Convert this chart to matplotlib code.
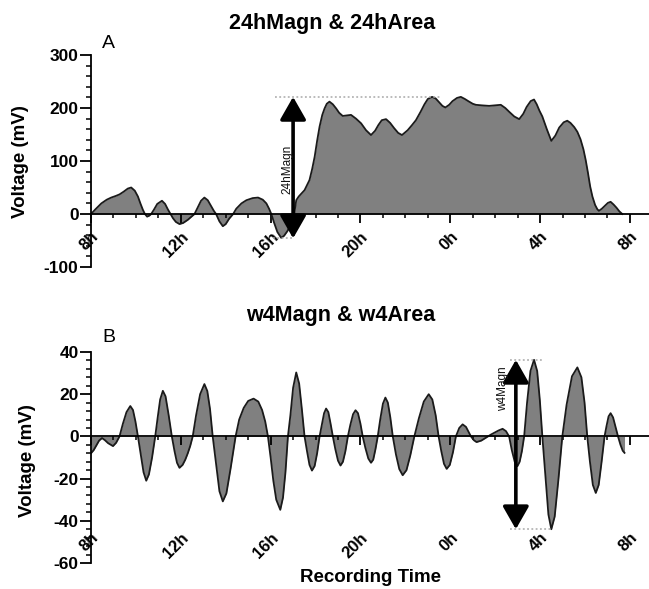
import matplotlib

matplotlib.use("Agg")

import matplotlib.pyplot as plt
from matplotlib.ticker import MultipleLocator, FixedLocator

# ---- data (hours since 8h, mV) ----
h24_time = [0, 0.2, 0.46, 0.7, 0.9, 1.1, 1.27, 1.45, 1.64, 1.79, 1.95, 2.09, 2.2, 2.31,
            2.4, 2.5, 2.6, 2.68, 2.8, 2.95, 3.16, 3.3, 3.42, 3.54, 3.65, 3.78, 3.94,
            4.1, 4.31, 4.47, 4.61, 4.75, 4.9, 5.05, 5.2, 5.35, 5.47, 5.57, 5.72, 5.87,
            6.0, 6.15, 6.33, 6.47, 6.7, 6.92, 7.2, 7.44, 7.65, 7.81, 7.93, 8.03, 8.15,
            8.3, 8.47, 8.6, 8.75, 8.92, 9.0, 9.05, 9.14, 9.25, 9.51, 9.73, 9.85, 9.96,
            10.07, 10.18, 10.3, 10.4, 10.5, 10.62, 10.77, 10.92, 11.05, 11.21, 11.4,
            11.58, 11.8, 12.03, 12.25, 12.47, 12.65, 12.8, 12.95, 13.14, 13.32, 13.5,
            13.68, 13.85, 14.1, 14.3, 14.47, 14.68, 14.85, 15.0, 15.19, 15.35, 15.5,
            15.65, 15.78, 15.95, 16.1, 16.3, 16.47, 16.65, 16.8, 17.0, 17.14, 17.4,
            17.73, 18.0, 18.25, 18.45, 18.62, 18.85, 19.07, 19.25, 19.4, 19.58, 19.73,
            19.85, 19.97, 20.1, 20.3, 20.5, 20.68, 20.85, 21.05, 21.21, 21.35, 21.52,
            21.66, 21.8, 21.93, 22.03, 22.13, 22.23, 22.33, 22.45, 22.55, 22.62, 22.75,
            22.9, 23.02, 23.14, 23.27, 23.4, 23.53, 23.66]
h24_volt = [0, 9, 20, 27, 31, 34, 37, 42, 48, 50, 44, 33, 20, 8,
            0, -5, -3, 0, 8, 19, 25, 19, 9, 0, -8, -15, -19,
            -17, -11, -5, 0, 12, 25, 31, 26, 15, 6, 0, -14, -23,
            -19, -9, 0, 10, 20, 26, 30, 31, 27, 20, 10, 0, -16,
            -34, -45, -41, -32, -18, -8, 0, 26, 33, 45, 64, 85, 108,
            138, 165, 187, 199, 208, 212, 207, 199, 191, 185, 186,
            187, 180, 171, 158, 149, 157, 168, 177, 179, 172, 162,
            153, 149, 158, 168, 177, 193, 207, 217, 221, 218, 211,
            204, 201, 206, 213, 219, 221, 217, 213, 208, 206, 205,
            204, 205, 206, 200, 193, 184, 179, 189, 202, 213, 216,
            207, 195, 184, 160, 138, 148, 163, 173, 176, 172, 164,
            155, 141, 122, 102, 78, 52, 33, 17, 9, 6, 10,
            16, 21, 23, 18, 12, 5, 0]

w4_time = [0, 0.12, 0.24, 0.36, 0.49, 0.62, 0.76, 0.98, 1.12, 1.27,
           1.42, 1.58, 1.75, 1.87, 1.98, 2.09,
           2.22, 2.34, 2.46, 2.58, 2.72, 2.86,
           2.97, 3.08, 3.2, 3.32, 3.46, 3.6,
           3.72, 3.83, 3.94, 4.08, 4.2, 4.31, 4.42, 4.53,
           4.68, 4.86, 5.05, 5.18, 5.3, 5.42,
           5.57, 5.72, 5.87, 6.03, 6.22, 6.44,
           6.6, 6.8, 7.0, 7.24, 7.45, 7.62, 7.76, 7.88,
           8.0, 8.12, 8.25, 8.43, 8.55, 8.66, 8.77,
           8.88, 9.0, 9.14, 9.27, 9.39, 9.51,
           9.62, 9.73, 9.84, 9.96, 10.07, 10.18,
           10.28, 10.38, 10.47, 10.57, 10.67, 10.77,
           10.88, 11.0, 11.11, 11.22, 11.33, 11.44,
           11.55, 11.67, 11.78, 11.89, 12.0, 12.1,
           12.22, 12.35, 12.47, 12.57, 12.67, 12.77,
           12.88, 13.0, 13.11, 13.22, 13.33, 13.44,
           13.58, 13.73, 13.88, 14.05, 14.22, 14.4,
           14.6, 14.82, 15.04, 15.2, 15.35, 15.48,
           15.6, 15.72, 15.84, 15.98, 16.12, 16.25,
           16.4, 16.55, 16.7, 16.82, 16.92,
           17.05, 17.17, 17.38, 17.59, 17.8, 17.96, 18.15, 18.33, 18.48, 18.62,
           18.74, 18.87, 18.99, 19.09, 19.19, 19.29,
           19.42, 19.57, 19.73, 19.87, 19.99, 20.1,
           20.23, 20.37, 20.5, 20.65, 20.82, 20.99,
           21.18, 21.42, 21.66, 21.84, 21.98, 22.1,
           22.22, 22.35, 22.48, 22.61, 22.74, 22.87,
           22.96, 23.05, 23.14, 23.25, 23.36, 23.47,
           23.58, 23.68, 23.76]
w4_volt = [-8, -6.5, -4.3, -2, -0.8, -1.8, -3.2, -4.6, -3, 0,
           6, 11.5, 14.4, 12.5, 7, 0,
           -9, -17, -21, -18, -10, 0,
           9, 17.5, 21.6, 19, 10, 0,
           -7, -12.5, -14.9, -13.5, -11, -8, -4.5, 0,
           10, 20, 24.8, 21.5, 13, 0,
           -13, -26, -30.8, -27, -15, 0,
           8, 13.5, 16.8, 17.9, 16.5, 12.5, 7, 0,
           -10, -21, -30, -34.8, -29, -17, 0,
           10, 23, 30.3, 25, 13, 0,
           -7, -13.5, -16.2, -14, -8, 0,
           5.5, 11, 13.2, 11.5, 6, 0,
           -6, -11.5, -13.8, -12, -7, 0,
           5.5, 10.5, 12.4, 11, 6, 0,
           -5.5, -10.5, -12.5, -11, -6, 0,
           8, 15.5, 18.4, 16, 9, 0,
           -8.5, -15.5, -18.4, -16, -9, 0,
           8.5, 16.5, 20, 17.5, 10, 0,
           -7, -13, -15.4, -13.5, -7.5, 0,
           4, 5.7, 4.5, 2, 0,
           -1.8, -2.7, -2, -0.6, 0.8, 1.7, 2.8, 3.6, 2.5, 0,
           -6.5, -12, -14.1, -12, -7, 0,
           16, 31, 36.3, 31, 17, 0,
           -18, -37, -44, -38, -20, 0,
           15, 28.5, 32.7, 28, 16, 0,
           -12, -23, -26.8, -23, -12, 0,
           5, 9.5, 11, 9, 4.5, 0,
           -4, -6.8, -7.8]

tick_hours = [0, 4, 8, 12, 16, 20, 24]
tick_labels = ["8h", "12h", "16h", "20h", "0h", "4h", "8h"]

# magnitude markers: arrow time, top, bottom, dotted spans
h24_arrow_t, h24_top, h24_bottom = 9.0, 221, -46
h24_top_span, h24_bottom_span = (8.18, 15.6), (8.1, 9.0)
w4_arrow_t, w4_top, w4_bottom = 18.92, 36.3, -44
w4_top_span, w4_bottom_span = (18.65, 20.1), (18.65, 20.5)

FILL = "#808080"
LINE = "#1a1a1a"
FONT = "Liberation Sans"

W, H = 649, 589
plt.rcParams["font.family"] = FONT
plt.rcParams["axes.unicode_minus"] = False


def style_axes(ax, ylim, ymajor, yminor, label_pad):
    ax.set_xlim(0, 24.85)
    ax.set_ylim(*ylim)
    for side in ("top", "right"):
        ax.spines[side].set_visible(False)
    ax.spines["bottom"].set_position(("data", 0))
    for side in ("left", "bottom"):
        ax.spines[side].set_linewidth(1.3)
        ax.spines[side].set_color("black")
    ax.xaxis.set_major_locator(FixedLocator(tick_hours))
    ax.xaxis.set_minor_locator(MultipleLocator(1))
    ax.set_xticks(tick_hours)
    ax.set_xticklabels(tick_labels, fontsize=12, fontweight="bold")
    ax.yaxis.set_major_locator(MultipleLocator(ymajor))
    ax.yaxis.set_minor_locator(MultipleLocator(yminor))
    ax.tick_params(axis="y", which="major", length=8, width=1.3, pad=1,
                   labelsize=12.5)
    ax.tick_params(axis="y", which="minor", length=3.6, width=1.1)
    ax.tick_params(axis="x", which="major", length=6.5, width=1.3, pad=label_pad)
    ax.tick_params(axis="x", which="minor", length=3.2, width=1.1)
    for lab in ax.get_yticklabels():
        lab.set_fontweight("bold")
    for lab in ax.get_xticklabels():
        lab.set_rotation(45)
        lab.set_ha("right")
        lab.set_va("top")
        lab.set_rotation_mode("anchor")


def magnitude(ax, t, top, bottom, top_span, bottom_span, text, text_dx, text_y):
    dots = (0, (1.2, 1.6))
    ax.hlines(top, *top_span, colors="#a8a8a8", linestyles=dots, lw=1.1, zorder=4)
    ax.hlines(bottom, *bottom_span, colors="#a8a8a8", linestyles=dots, lw=1.1, zorder=4)
    ax.annotate(
        "",
        xy=(t, top),
        xytext=(t, bottom),
        arrowprops=dict(
            arrowstyle="<|-|>,head_length=0.7,head_width=0.4",
            lw=2.6,
            color="black",
            mutation_scale=20,
            shrinkA=0,
            shrinkB=0,
        ),
        zorder=5,
    )
    ax.text(t - text_dx, text_y, text, rotation=90, ha="center", va="center",
            fontsize=8.5, color="#111111", zorder=6)


fig = plt.figure(figsize=(W / 100, H / 100), dpi=100)

ax_a = fig.add_axes([91 / W, 1 - 267 / H, (W - 91) / W, (267 - 55) / H])
ax_a.fill_between(h24_time, h24_volt, 0, color=FILL, lw=0)
ax_a.plot(h24_time, h24_volt, color=LINE, lw=1.3)
style_axes(ax_a, (-100, 300), 100, 20, 4.5)
magnitude(ax_a, h24_arrow_t, h24_top, h24_bottom, h24_top_span, h24_bottom_span,
          "24hMagn", 0.27, 85)

ax_b = fig.add_axes([91 / W, 1 - 563 / H, (W - 91) / W, (563 - 352) / H])
ax_b.fill_between(w4_time, w4_volt, 0, color=FILL, lw=0)
ax_b.plot(w4_time, w4_volt, color=LINE, lw=1.3)
style_axes(ax_b, (-60, 40), 20, 4, 61)
magnitude(ax_b, w4_arrow_t, w4_top, w4_bottom, w4_top_span, w4_bottom_span,
          "w4Magn", 0.58, 22.5)

fig.text(332 / W, 1 - 23 / H, "24hMagn & 24hArea", ha="center", va="center",
         fontsize=15.5, fontweight="bold")
fig.text(341 / W, 1 - 315 / H, "w4Magn & w4Area", ha="center", va="center",
         fontsize=15.5, fontweight="bold")
fig.text(102 / W, 1 - 44 / H, "A", ha="left", va="center", fontsize=14)
fig.text(102 / W, 1 - 338 / H, "B", ha="left", va="center", fontsize=14)
fig.text(21 / W, 1 - 162 / H, "Voltage (mV)", rotation=90, ha="center", va="center",
         fontsize=13.5, fontweight="bold")
fig.text(28 / W, 1 - 461 / H, "Voltage (mV)", rotation=90, ha="center", va="center",
         fontsize=13.5, fontweight="bold")
fig.text(371 / W, 1 - 577 / H, "Recording Time", ha="center", va="center",
         fontsize=13.5, fontweight="bold")

fig.savefig("out.png", dpi=100)
